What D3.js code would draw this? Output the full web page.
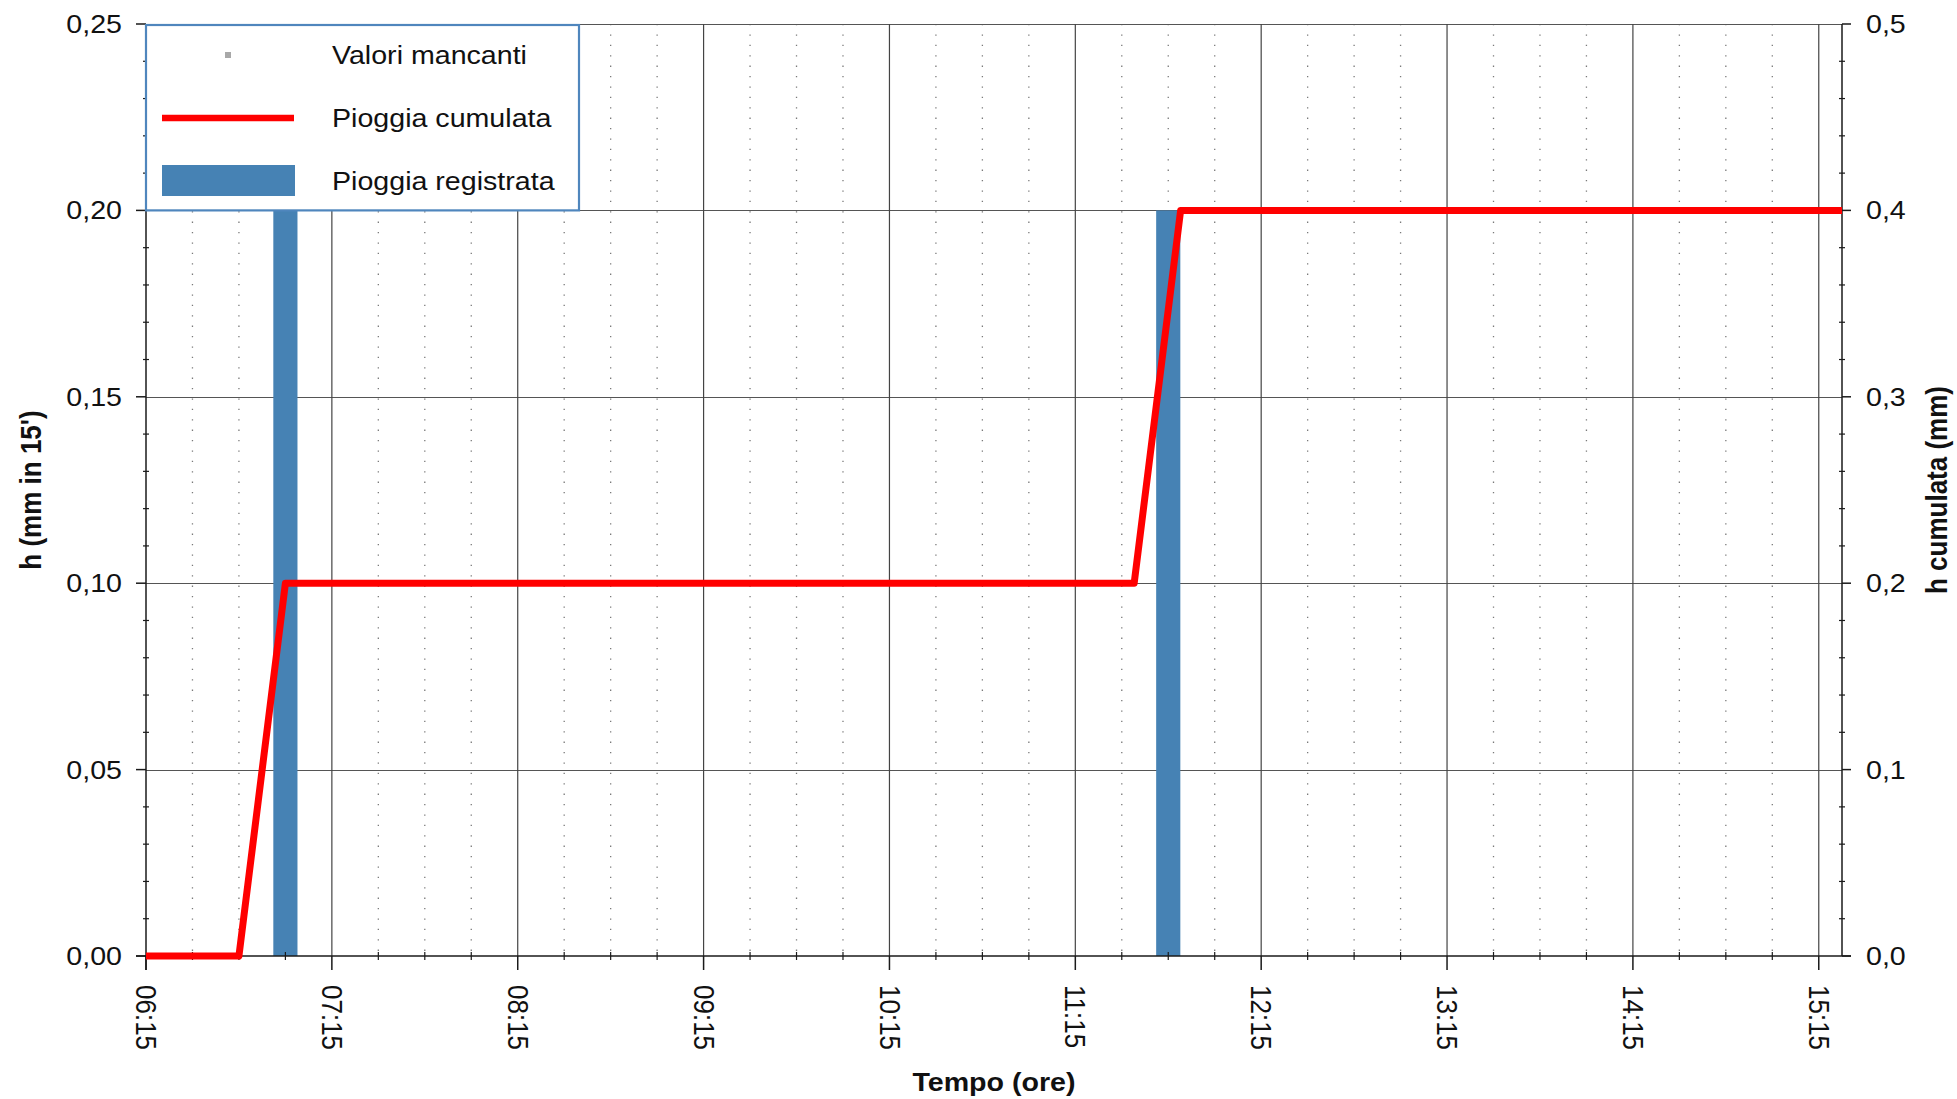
<!DOCTYPE html>
<html>
<head>
<meta charset="utf-8">
<script src="https://cdn.jsdelivr.net/npm/d3@7/dist/d3.min.js"></script>
<style>
  html, body { margin: 0; padding: 0; background: #fff; }
  svg { display: block; }
  text { font-family: "Liberation Sans", Arial, sans-serif; fill: #111; }
</style>
</head>
<body>
<svg id="chart" width="1957" height="1099"></svg>
<script>
// ---------------- data ----------------
const xStart = "06:15";
const xEnd = "15:22:30";
const hourTicks = ["06:15","07:15","08:15","09:15","10:15","11:15","12:15","13:15","14:15","15:15"];
const rainTimes = ["07:00", "11:45"];           // Pioggia registrata (mm in 15')
const rainValues = [0.20, 0.20];
const cumTimes = ["06:15", "06:45", "07:00", "11:34", "11:49", "15:30"]; // Pioggia cumulata
const cumValues = [0.0, 0.0, 0.2, 0.2, 0.4, 0.4];
const leftTicks = [0, 0.05, 0.10, 0.15, 0.20, 0.25];
const leftTickLabels = ["0,00","0,05","0,10","0,15","0,20","0,25"];
const rightTicks = [0, 0.1, 0.2, 0.3, 0.4, 0.5];
const rightTickLabels = ["0,0","0,1","0,2","0,3","0,4","0,5"];
const legendLabels = ["Valori mancanti", "Pioggia cumulata", "Pioggia registrata"];
const titles = { x: "Tempo (ore)", yLeft: "h (mm in 15')", yRight: "h cumulata (mm)" };

// ---------------- layout ----------------
const W = 1957, H = 1099;
const L = 146, R = 1842, T = 24, B = 956;
const SX = 1.1;               // horizontal stretch of glyphs
const FS = 26;
const BLUE = "#4682b4", RED = "#ff0000";

function toMin(s) { const p = s.split(":").map(Number); return p[0]*60 + p[1] + (p[2]||0)/60; }

const x = d3.scaleLinear().domain([toMin(xStart), toMin(xEnd)]).range([L, R]);
const yL = d3.scaleLinear().domain([0, 0.25]).range([B, T]);
const yR = d3.scaleLinear().domain([0, 0.5]).range([B, T]);

const svg = d3.select("#chart");
function tf(x0, y0, rot) { return `translate(${x0},${y0}) scale(${SX},1)` + (rot ? ` rotate(${rot})` : ""); }

// ---------------- grid ----------------
const g = svg.append("g");
const quarters = d3.range(toMin(xStart), toMin(xEnd) + 0.01, 15).filter(m => (m - toMin(xStart)) % 60 !== 0);
g.selectAll("line.dot").data(quarters).join("line")
  .attr("x1", d => x(d)).attr("x2", d => x(d)).attr("y1", T).attr("y2", B)
  .attr("stroke", "#7a7a7a").attr("stroke-width", 1.3).attr("stroke-dasharray", "1.3,9.1");
g.selectAll("line.hg").data(leftTicks.slice(1)).join("line")
  .attr("x1", L).attr("x2", R).attr("y1", d => Math.round(yL(d)) + 0.5).attr("y2", d => Math.round(yL(d)) + 0.5)
  .attr("stroke", "#555").attr("stroke-width", 1.2);
g.selectAll("line.vg").data(hourTicks.slice(1).map(toMin)).join("line")
  .attr("x1", d => x(d)).attr("x2", d => x(d)).attr("y1", T).attr("y2", B)
  .attr("stroke", "#444").attr("stroke-width", 1.2);

// ---------------- bars ----------------
const step = x(toMin("00:15")) - x(0);
const bw = step * 0.52;
svg.append("g").selectAll("rect").data(rainTimes.map((t, i) => ({ t: toMin(t), v: rainValues[i] }))).join("rect")
  .attr("x", d => x(d.t) - bw / 2).attr("width", bw)
  .attr("y", d => yL(d.v)).attr("height", d => yL(0) - yL(d.v))
  .attr("fill", BLUE);

// ---------------- axes ----------------
const ax = svg.append("g").attr("stroke", "#1a1a1a").attr("stroke-width", 1.5);
ax.append("line").attr("x1", L).attr("x2", L).attr("y1", T).attr("y2", B + 14);
const leftMinor = d3.range(0, 0.2501, 0.01).filter(v => Math.abs(v / 0.05 - Math.round(v / 0.05)) > 1e-6);
ax.selectAll("line.lmin").data(leftMinor).join("line")
  .attr("x1", L - 3).attr("x2", L + 3).attr("y1", d => yL(d)).attr("y2", d => yL(d)).attr("stroke-width", 1.2);
ax.selectAll("line.lmaj").data(leftTicks).join("line")
  .attr("x1", L - 10).attr("x2", L).attr("y1", d => yL(d)).attr("y2", d => yL(d));
ax.append("line").attr("x1", R).attr("x2", R).attr("y1", T).attr("y2", B);
const rightMinor = d3.range(0, 0.5001, 0.02).filter(v => Math.abs(v / 0.1 - Math.round(v / 0.1)) > 1e-6);
ax.selectAll("line.rmin").data(rightMinor).join("line")
  .attr("x1", R - 3).attr("x2", R + 3).attr("y1", d => yR(d)).attr("y2", d => yR(d)).attr("stroke-width", 1.2);
ax.selectAll("line.rmaj").data(rightTicks).join("line")
  .attr("x1", R).attr("x2", R + 9).attr("y1", d => yR(d)).attr("y2", d => yR(d));
ax.append("line").attr("x1", L - 10).attr("x2", R + 9).attr("y1", B).attr("y2", B);
ax.selectAll("line.xmin").data(quarters).join("line")
  .attr("x1", d => x(d)).attr("x2", d => x(d)).attr("y1", B - 4).attr("y2", B + 4).attr("stroke-width", 1.2);
ax.selectAll("line.xmaj").data(hourTicks.map(toMin)).join("line")
  .attr("x1", d => x(d)).attr("x2", d => x(d)).attr("y1", B).attr("y2", B + 14);

// tick labels
const lab = svg.append("g").style("font-size", FS + "px");
lab.selectAll("text.ly").data(leftTicks).join("text")
  .attr("transform", d => tf(122, yL(d))).attr("text-anchor", "end").attr("dominant-baseline", "central")
  .text((d, i) => leftTickLabels[i]);
lab.selectAll("text.ry").data(rightTicks).join("text")
  .attr("transform", d => tf(1866, yR(d))).attr("text-anchor", "start").attr("dominant-baseline", "central")
  .text((d, i) => rightTickLabels[i]);
lab.selectAll("text.xt").data(hourTicks).join("text")
  .attr("transform", d => tf(x(toMin(d)), 985, 90)).attr("text-anchor", "start").attr("dominant-baseline", "central")
  .text(d => d);

// titles
const tt = svg.append("g").style("font-size", FS + "px").style("font-weight", "bold");
tt.append("text").attr("transform", tf((L + R) / 2, 1091)).attr("text-anchor", "middle").text(titles.x);
tt.append("text").attr("transform", tf(31, (T + B) / 2, -90)).attr("text-anchor", "middle").attr("dominant-baseline", "central").text(titles.yLeft);
tt.append("text").attr("transform", tf(1937, (T + B) / 2, -90)).attr("text-anchor", "middle").attr("dominant-baseline", "central").text(titles.yRight);

// ---------------- cumulative line ----------------
svg.append("clipPath").attr("id", "clipx").append("rect").attr("x", L).attr("y", 0).attr("width", R - L).attr("height", H);
svg.append("path")
  .datum(cumTimes.map((t, i) => ({ t: toMin(t), v: cumValues[i] })))
  .attr("clip-path", "url(#clipx)")
  .attr("d", d3.line().x(d => x(d.t)).y(d => yR(d.v)))
  .attr("fill", "none").attr("stroke", RED).attr("stroke-width", 7).attr("stroke-linejoin", "round");

// ---------------- legend ----------------
const lg = svg.append("g");
lg.append("rect").attr("x", L).attr("y", T + 1).attr("width", 433).attr("height", yL(0.2) - T - 1)
  .attr("fill", "#fff").attr("stroke", "#4f86bd").attr("stroke-width", 2.2);
lg.append("rect").attr("x", 225).attr("y", 52).attr("width", 6).attr("height", 6).attr("fill", "#a8a8a8");
lg.append("line").attr("x1", 162).attr("x2", 294).attr("y1", 118).attr("y2", 118).attr("stroke", RED).attr("stroke-width", 6.5);
lg.append("rect").attr("x", 162).attr("y", 165).attr("width", 133).attr("height", 31).attr("fill", BLUE);
lg.selectAll("text").data(legendLabels).join("text")
  .attr("transform", (d, i) => tf(332, [55, 118, 181][i]))
  .attr("dominant-baseline", "central").style("font-size", FS + "px")
  .text(d => d);
</script>
</body>
</html>
